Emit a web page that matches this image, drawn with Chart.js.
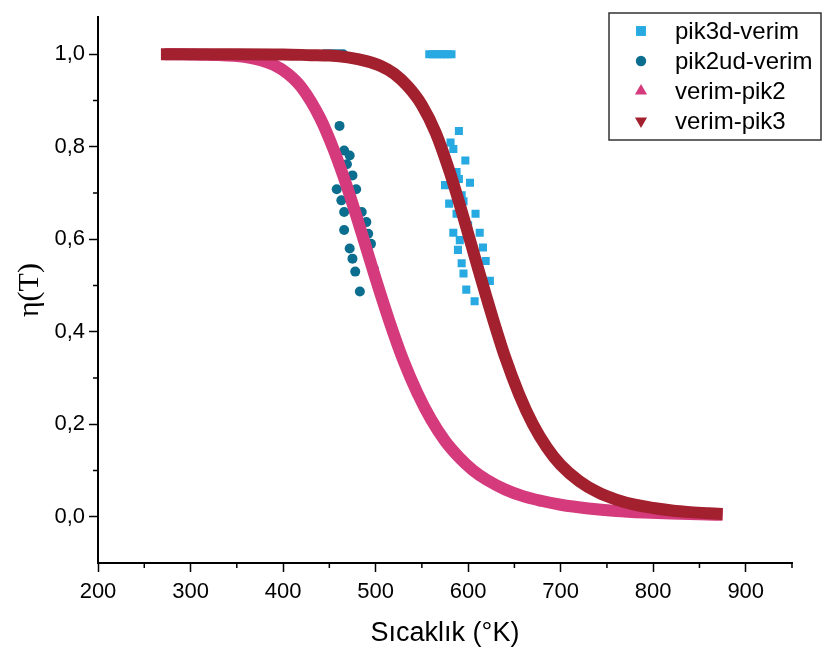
<!DOCTYPE html>
<html><head><meta charset="utf-8">
<script src="https://cdn.jsdelivr.net/npm/chart.js@4.4.1/dist/chart.umd.min.js"></script>
<style>html,body{margin:0;padding:0;background:#fff}</style>
</head><body>
<canvas id="c" width="823" height="662"></canvas>
<script>
// ---- data ----
const pik3dT = [558,562,566,570,574,578,582,
  590,581,584,575,597,587.5,590,602,575,593,595,579.5,608,587.5,600,584,612.5,591,616,589,619,593,595,623.5,598,607];
const pik3dV = [1,1,1,1,1,1,1,
  0.834,0.809,0.795,0.770,0.770,0.745,0.730,0.722,0.717,0.695,0.682,0.677,0.655,0.655,0.630,0.614,0.614,0.598,0.582,0.577,0.553,0.548,0.526,0.510,0.491,0.466];

const pik2udT = [445,449,453,457,461,465,
  461,466,472,469,475,458,479,463,466,485,490,466,492,472,495,475,498,478,483];
const pik2udV = [1,1,1,1,1,1,
  0.845,0.792,0.781,0.762,0.738,0.708,0.708,0.684,0.659,0.659,0.637,0.620,0.612,0.580,0.590,0.558,0.536,0.530,0.487];

const verimPik2T = [272,290,310,330,350,370,390,405,420,440,455,470,485,500,515,530,545,560,575,590,605,620,640,660,680,700,730,760,790,820,850,875];
const verimPik2V = [1.000,1.000,0.999,0.998,0.996,0.990,0.977,0.958,0.928,0.862,0.792,0.708,0.613,0.515,0.422,0.338,0.268,0.210,0.164,0.129,0.101,0.080,0.059,0.044,0.034,0.026,0.018,0.0126,0.0092,0.0068,0.0052,0.0042];

const verimPik3T = [268,300,350,400,430,450,470,490,505,520,535,550,565,580,595,610,625,640,655,670,685,700,720,740,760,780,800,820,840,860,875];
const verimPik3V = [1.000,1.000,1.000,0.9995,0.998,0.997,0.993,0.985,0.975,0.958,0.930,0.890,0.830,0.746,0.647,0.542,0.440,0.345,0.265,0.200,0.150,0.112,0.077,0.053,0.037,0.026,0.019,0.0136,0.010,0.0075,0.006];

const xTicks = [200,300,400,500,600,700,800,900];
const xMinor = [250,350,450,550,650,750,850,950];
const yTicks = [0.0,0.2,0.4,0.6,0.8,1.0];
const yMinor = [0.1,0.3,0.5,0.7,0.9];

const pts = (xs, ys) => xs.map((x, i) => ({x: x, y: ys[i]}));

const C_SQ = '#27A9E1', C_CI = '#0B6E8E', C_PK = '#D43A7C', C_RD = '#A3202E';
const SANS = '"Liberation Sans", Arial, sans-serif';

const minorTicks = {
  id: 'minorTicks',
  afterDraw(chart) {
    const ctx = chart.ctx, xs = chart.scales.x, ys = chart.scales.y;
    ctx.save();
    ctx.strokeStyle = '#000'; ctx.lineWidth = 1.5;
    ctx.beginPath();
    xMinor.forEach(v => { const p = xs.getPixelForValue(v); ctx.moveTo(p, xs.top); ctx.lineTo(p, xs.top + 5); });
    yMinor.forEach(v => { const p = ys.getPixelForValue(v); ctx.moveTo(ys.right, p); ctx.lineTo(ys.right - 5, p); });
    ctx.stroke();
    ctx.restore();
  }
};

const boxLegend = {
  id: 'boxLegend',
  afterDraw(chart) {
    const ctx = chart.ctx;
    const L = 609, T = 13, R = 821, B = 140;
    ctx.save();
    ctx.fillStyle = '#fff';
    ctx.fillRect(L, T, R - L, B - T);
    ctx.strokeStyle = '#333'; ctx.lineWidth = 1.5;
    ctx.strokeRect(L, T, R - L, B - T);
    ctx.font = '24px ' + SANS;
    ctx.textBaseline = 'middle'; ctx.textAlign = 'left';
    chart.data.datasets.forEach((ds, i) => {
      const y = 31 + i * 30;
      ctx.fillStyle = ds.legendColor;
      Chart.helpers.drawPoint(ctx, {pointStyle: ds.pointStyle, radius: ds.legendRadius, rotation: ds.pointRotation || 0, borderWidth: 0}, 641, y);
      ctx.fillStyle = '#000';
      ctx.fillText(ds.label, 675, y + 1);
    });
    ctx.restore();
  }
};

new Chart(document.getElementById('c'), {
  type: 'scatter',
  data: {
    datasets: [
      {label: 'pik3d-verim', data: pts(pik3dT, pik3dV), pointStyle: 'rect', pointRadius: 5.7,
       backgroundColor: C_SQ, borderWidth: 0, legendColor: C_SQ, legendRadius: 7, order: 3},
      {label: 'pik2ud-verim', data: pts(pik2udT, pik2udV), pointStyle: 'circle', pointRadius: 5,
       backgroundColor: C_CI, borderWidth: 0, legendColor: C_CI, legendRadius: 5.2, order: 2},
      {label: 'verim-pik2', data: pts(verimPik2T, verimPik2V), showLine: true, borderColor: C_PK, borderWidth: 12,
       backgroundColor: C_PK, pointStyle: 'triangle', pointRadius: 0, cubicInterpolationMode: 'monotone',
       legendColor: C_PK, legendRadius: 7, order: 1},
      {label: 'verim-pik3', data: pts(verimPik3T, verimPik3V), showLine: true, borderColor: C_RD, borderWidth: 12,
       backgroundColor: C_RD, pointStyle: 'triangle', pointRotation: 180, pointRadius: 0, cubicInterpolationMode: 'monotone',
       legendColor: C_RD, legendRadius: 7, order: 0}
    ]
  },
  options: {
    responsive: false,
    animation: false,
    events: [],
    layout: {padding: {left: 0, top: 13, right: 31, bottom: 0}},
    plugins: {legend: {display: false}, tooltip: {enabled: false}},
    scales: {
      x: {
        type: 'linear', min: 200, max: 950,
        afterBuildTicks: s => { s.ticks = xTicks.map(v => ({value: v})); },
        afterFit: s => { s.height = 99; },
        ticks: {color: '#000', font: {size: 22, family: SANS}, padding: 7, maxRotation: 0},
        grid: {display: true, drawOnChartArea: false, drawTicks: true, tickLength: 9, tickWidth: 1.5, tickColor: '#000'},
        border: {display: true, color: '#000', width: 2},
        title: {display: true, text: 'Sıcaklık (°K)', color: '#000',
                font: {size: 27, family: SANS}, padding: {top: 0, bottom: 12}}
      },
      y: {
        type: 'linear', min: -0.1, max: 1.08,
        afterBuildTicks: s => { s.ticks = yTicks.map(v => ({value: v})); },
        afterFit: s => { s.width = 98; },
        ticks: {color: '#000', font: {size: 22, family: SANS}, padding: 4,
                callback: v => v.toFixed(1).replace('.', ',')},
        grid: {display: true, drawOnChartArea: false, drawTicks: true, tickLength: 9, tickWidth: 1.5, tickColor: '#000'},
        border: {display: true, color: '#000', width: 2},
        title: {display: true, text: 'η(T)', color: '#000',
                font: {size: 30, family: '"Liberation Serif", "Times New Roman", serif'}, padding: {top: 12, bottom: 0}}
      }
    }
  },
  plugins: [minorTicks, boxLegend]
});
</script>
</body></html>
